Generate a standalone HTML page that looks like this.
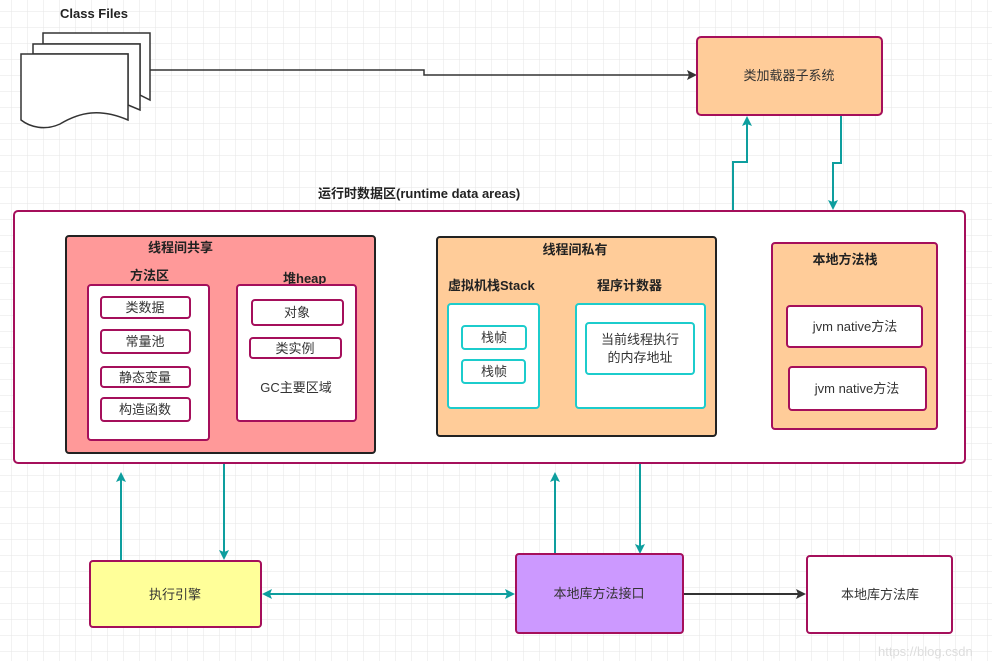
<!DOCTYPE html>
<html><head><meta charset="utf-8"><style>
html,body{margin:0;padding:0;background:#fff}
svg{display:block}
text{font-family:"Liberation Sans","Noto Sans CJK SC",sans-serif;fill:#333}
.b{font-weight:bold;fill:#222}
</style></head><body>
<svg width="992" height="661" viewBox="0 0 992 661" xmlns="http://www.w3.org/2000/svg">
<defs>
<pattern id="g" width="16" height="16" patternUnits="userSpaceOnUse" x="11" y="11">
<path d="M16 0H0V16" fill="none" stroke="#e6e6e6" stroke-width="1"/>
</pattern>
<marker id="t" markerWidth="10" markerHeight="10" refX="8" refY="5" orient="auto" markerUnits="userSpaceOnUse"><path d="M0,0 L10,5 L0,10 L2,5z" fill="#0e9e9e"/></marker>
<marker id="ts" markerWidth="10" markerHeight="10" refX="2" refY="5" orient="auto" markerUnits="userSpaceOnUse"><path d="M10,0 L0,5 L10,10 L8,5z" fill="#0e9e9e"/></marker>
<marker id="k" markerWidth="10" markerHeight="10" refX="8" refY="5" orient="auto" markerUnits="userSpaceOnUse"><path d="M0,0 L10,5 L0,10 L2,5z" fill="#333"/></marker>
</defs>
<rect width="992" height="661" fill="url(#g)"/>

<text x="60" y="18" class="b" font-size="13">Class Files</text>
<path d="M43,33 H150 V100 L140,95 V44 H43z" fill="#fff" stroke="#333" stroke-width="1.5"/>
<path d="M33,44 H140 V110 L128,105 V54 H33z" fill="#fff" stroke="#333" stroke-width="1.5"/>
<path d="M21,54 H128 V120 C100,108 80,112 60,124 C45,131 30,127 21,120z" fill="#fff" stroke="#333" stroke-width="1.5"/>
<path d="M150,70 H424 V75 H695" fill="none" stroke="#333" stroke-width="1.5" marker-end="url(#k)"/>

<rect x="697" y="37" width="185" height="78" rx="4" fill="#ffcc99" stroke="#a50f5b" stroke-width="2"/>
<text x="789" y="80" font-size="13" text-anchor="middle">类加载器子系统</text>
<path d="M733,211 V162 H747 V118" fill="none" stroke="#0e9e9e" stroke-width="2" marker-end="url(#t)"/>
<path d="M841,116 V163 H833 V208" fill="none" stroke="#0e9e9e" stroke-width="2" marker-end="url(#t)"/>

<text x="318" y="198" class="b" font-size="13">运行时数据区(runtime data areas)</text>
<rect x="14" y="211" width="951" height="252" rx="4" fill="#fff" stroke="#a50f5b" stroke-width="2"/>

<rect x="66" y="236" width="309" height="217" rx="3" fill="#ff9999" stroke="#222" stroke-width="2"/>
<text x="148" y="252" class="b" font-size="13">线程间共享</text>
<text x="130" y="280" class="b" font-size="13">方法区</text>
<rect x="88" y="285" width="121" height="155" rx="3" fill="#fff" stroke="#a50f5b" stroke-width="2"/>
<g font-size="13" text-anchor="middle">
<rect x="101" y="297" width="89" height="21" rx="3" fill="#fff" stroke="#a50f5b" stroke-width="2"/><text x="145" y="312">类数据</text>
<rect x="101" y="330" width="89" height="23" rx="3" fill="#fff" stroke="#a50f5b" stroke-width="2"/><text x="145" y="346">常量池</text>
<rect x="101" y="367" width="89" height="20" rx="3" fill="#fff" stroke="#a50f5b" stroke-width="2"/><text x="145" y="382">静态变量</text>
<rect x="101" y="398" width="89" height="23" rx="3" fill="#fff" stroke="#a50f5b" stroke-width="2"/><text x="145" y="414">构造函数</text>
</g>
<text x="283" y="283" class="b" font-size="13">堆heap</text>
<rect x="237" y="285" width="119" height="136" rx="3" fill="#fff" stroke="#a50f5b" stroke-width="2"/>
<g font-size="13" text-anchor="middle">
<rect x="252" y="300" width="91" height="25" rx="3" fill="#fff" stroke="#a50f5b" stroke-width="2"/><text x="297" y="317">对象</text>
<rect x="250" y="338" width="91" height="20" rx="3" fill="#fff" stroke="#a50f5b" stroke-width="2"/><text x="295" y="353">类实例</text>
<text x="296" y="392">GC主要区域</text>
</g>

<rect x="437" y="237" width="279" height="199" rx="3" fill="#ffcc99" stroke="#222" stroke-width="2"/>
<text x="575" y="254" class="b" font-size="13" text-anchor="middle">线程间私有</text>
<text x="448" y="290" class="b" font-size="13">虚拟机栈Stack</text>
<text x="597" y="290" class="b" font-size="13">程序计数器</text>
<rect x="448" y="304" width="91" height="104" rx="3" fill="#fff" stroke="#1ccccc" stroke-width="2"/>
<g font-size="13" text-anchor="middle">
<rect x="462" y="326" width="64" height="23" rx="3" fill="#fff" stroke="#1ccccc" stroke-width="2"/><text x="494" y="342">栈帧</text>
<rect x="462" y="360" width="63" height="23" rx="3" fill="#fff" stroke="#1ccccc" stroke-width="2"/><text x="494" y="376">栈帧</text>
</g>
<rect x="576" y="304" width="129" height="104" rx="3" fill="#fff" stroke="#1ccccc" stroke-width="2"/>
<rect x="586" y="323" width="108" height="51" rx="3" fill="#fff" stroke="#1ccccc" stroke-width="2"/>
<text x="640" y="344" font-size="13" text-anchor="middle">当前线程执行</text>
<text x="640" y="362" font-size="13" text-anchor="middle">的内存地址</text>

<rect x="772" y="243" width="165" height="186" rx="3" fill="#ffcc99" stroke="#a50f5b" stroke-width="2"/>
<text x="845" y="264" class="b" font-size="13" text-anchor="middle">本地方法栈</text>
<rect x="787" y="306" width="135" height="41" rx="3" fill="#fff" stroke="#a50f5b" stroke-width="2"/>
<text x="855" y="331" font-size="13" text-anchor="middle">jvm native方法</text>
<rect x="789" y="367" width="137" height="43" rx="3" fill="#fff" stroke="#a50f5b" stroke-width="2"/>
<text x="857" y="393" font-size="13" text-anchor="middle">jvm native方法</text>

<line x1="121" y1="561" x2="121" y2="474" stroke="#0e9e9e" stroke-width="2" marker-end="url(#t)"/>
<line x1="224" y1="464" x2="224" y2="558" stroke="#0e9e9e" stroke-width="2" marker-end="url(#t)"/>
<line x1="555" y1="554" x2="555" y2="474" stroke="#0e9e9e" stroke-width="2" marker-end="url(#t)"/>
<line x1="640" y1="464" x2="640" y2="552" stroke="#0e9e9e" stroke-width="2" marker-end="url(#t)"/>
<line x1="264" y1="594" x2="513" y2="594" stroke="#0e9e9e" stroke-width="2" marker-start="url(#ts)" marker-end="url(#t)"/>
<line x1="684" y1="594" x2="804" y2="594" stroke="#333" stroke-width="2" marker-end="url(#k)"/>

<rect x="90" y="561" width="171" height="66" rx="3" fill="#ffff99" stroke="#a50f5b" stroke-width="2"/>
<text x="175" y="599" font-size="13" text-anchor="middle">执行引擎</text>
<rect x="516" y="554" width="167" height="79" rx="3" fill="#cc99ff" stroke="#a50f5b" stroke-width="2"/>
<text x="599" y="598" font-size="13" text-anchor="middle">本地库方法接口</text>
<rect x="807" y="556" width="145" height="77" rx="3" fill="#fff" stroke="#a50f5b" stroke-width="2"/>
<text x="880" y="599" font-size="13" text-anchor="middle">本地库方法库</text>
<text x="878" y="656" font-size="13" style="fill:#ddd">https://blog.csdn</text>
</svg>
</body></html>
